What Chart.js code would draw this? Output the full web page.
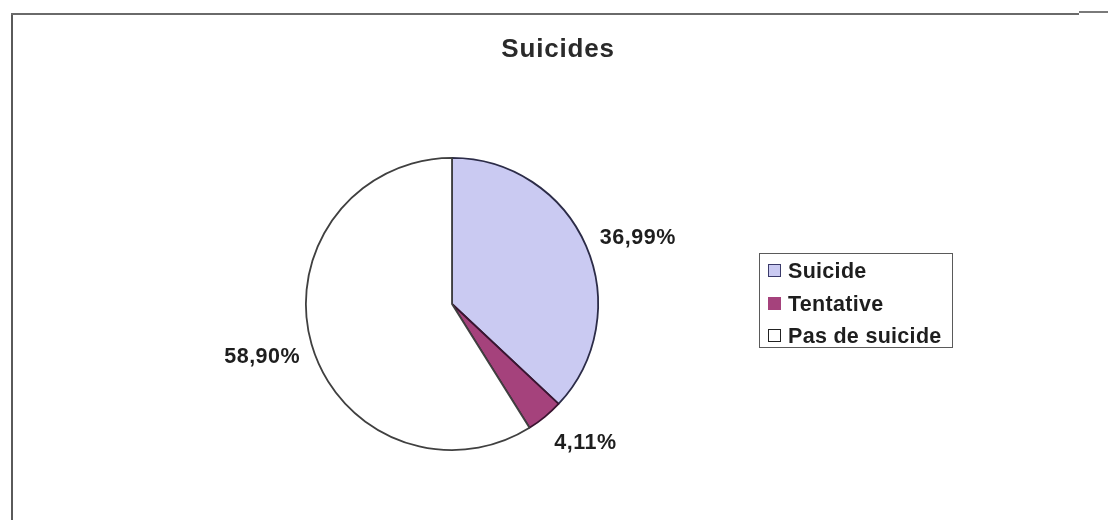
<!DOCTYPE html>
<html>
<head>
<meta charset="utf-8">
<script src="https://cdn.jsdelivr.net/npm/chart.js@4.4.1/dist/chart.umd.min.js"></script>
<style>
  html,body{margin:0;padding:0;background:#fff;}
  #wrap{position:relative;width:1108px;height:520px;overflow:hidden;background:#fff;font-family:"Liberation Sans",Arial,sans-serif;}
  #c{position:absolute;left:0;top:0;}
  .frameL{position:absolute;left:11px;top:13px;width:2px;height:520px;background:#5a5a5a;}
  .frameT{position:absolute;left:11px;top:13px;width:1068px;height:2px;background:#6a6a6a;}
  .frameT2{position:absolute;left:1079px;top:11px;width:40px;height:2px;background:#7a7a7a;}
  #title{position:absolute;left:0;width:1108px;top:33px;text-align:center;font-weight:bold;font-size:26px;letter-spacing:0.8px;color:#2a2a2a;padding-left:4px;}
  #legend{position:absolute;left:759px;top:253px;width:192px;height:93px;border:1.5px solid #5a5a5a;}
  .item{position:absolute;left:8px;height:26px;line-height:26px;font-weight:bold;font-size:21.5px;letter-spacing:0.3px;color:#1e1e1e;white-space:nowrap;}
  .sw{position:absolute;left:0;top:6px;width:11px;height:11px;border:1.4px solid #333;}
  .item span{position:absolute;left:20px;top:0;}
</style>
</head>
<body>
<div id="wrap">
  <canvas id="c" width="1108" height="520"></canvas>
  <div class="frameL"></div>
  <div class="frameT"></div>
  <div class="frameT2"></div>
  <div id="title"></div>
  <div id="legend"></div>
</div>
<script>
const chartTitle = "Suicides";
const categories = ["Suicide", "Tentative", "Pas de suicide"];
const values = [36.99, 4.11, 58.90];
const valueLabels = ["36,99%", "4,11%", "58,90%"];
const fillColors = ["#cacaf2", "#a5427c", "#ffffff"];
const borderColors = ["#2c2c48", "#3a1430", "#404040"];
const legendBorders = ["#3a3a6a", "#a5427c", "#222222"];

document.getElementById('title').textContent = chartTitle;
const lg = document.getElementById('legend');
categories.forEach((name, i) => {
  const d = document.createElement('div');
  d.className = 'item';
  d.style.top = (4 + i * 32.5) + 'px';
  const sw = document.createElement('div');
  sw.className = 'sw';
  sw.style.background = fillColors[i];
  sw.style.borderColor = legendBorders[i];
  const t = document.createElement('span');
  t.textContent = name;
  d.appendChild(sw); d.appendChild(t);
  lg.appendChild(d);
});

const labelPlugin = {
  id: 'outLabels',
  afterDatasetsDraw(chart) {
    const ctx = chart.ctx;
    const meta = chart.getDatasetMeta(0);
    ctx.save();
    ctx.font = 'bold 21.5px "Liberation Sans", Arial, sans-serif';
    try { ctx.letterSpacing = '0.5px'; } catch (e) {}
    ctx.fillStyle = '#1e1e1e';
    meta.data.forEach((arc, i) => {
      const p = arc.getProps(['x','y','startAngle','endAngle','outerRadius'], true);
      const mid = (p.startAngle + p.endAngle) / 2;
      const c = Math.cos(mid), s = Math.sin(mid);
      const dist = p.outerRadius + 15;
      let x = p.x + c * dist;
      let y = p.y + s * dist;
      ctx.textAlign = c > 0.3 ? 'left' : (c < -0.3 ? 'right' : 'center');
      if (c < -0.3) x += 3;
      if (s > 0.5) { ctx.textBaseline = 'top'; y += 4; }
      else if (s < -0.5) { ctx.textBaseline = 'bottom'; }
      else { ctx.textBaseline = 'middle'; y += 4.5 + 16 * s; }
      ctx.fillText(valueLabels[i], x, y);
    });
    ctx.restore();
  }
};

new Chart(document.getElementById('c'), {
  type: 'pie',
  data: {
    labels: categories,
    datasets: [{
      data: values,
      backgroundColor: fillColors,
      borderColor: borderColors,
      borderWidth: 1.8,
      borderAlign: 'center'
    }]
  },
  options: {
    responsive: false,
    animation: false,
    rotation: 0,
    layout: { padding: { left: 305, right: 509, top: 157, bottom: 69 } },
    plugins: {
      legend: { display: false },
      title: { display: false },
      tooltip: { enabled: false }
    }
  },
  plugins: [labelPlugin]
});
</script>
</body>
</html>
